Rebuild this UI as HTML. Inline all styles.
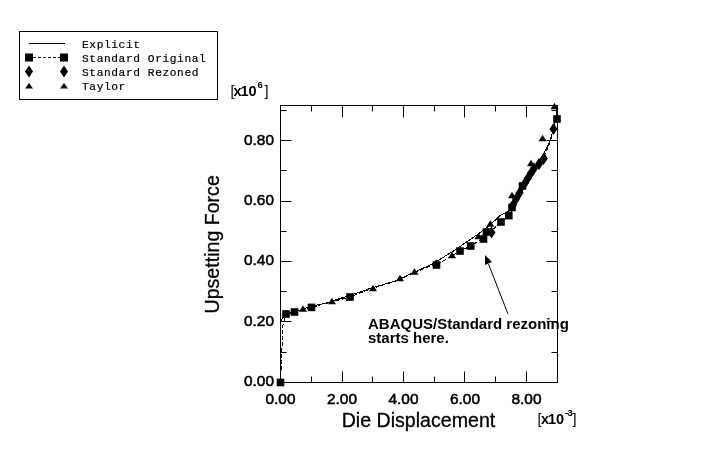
<!DOCTYPE html>
<html><head><meta charset="utf-8"><style>
html,body{margin:0;padding:0;background:#fff;}
body{width:701px;height:471px;overflow:hidden;position:relative;}
svg{position:absolute;left:0;top:0;will-change:transform;}
.s{font-family:"Liberation Sans",sans-serif;}
.m{font-family:"Liberation Mono",monospace;}
</style></head><body>
<svg width="701" height="471" viewBox="0 0 701 471">
<rect x="0" y="0" width="701" height="471" fill="#fff"/>
<!-- legend -->
<rect x="19.5" y="31.5" width="198" height="68" fill="none" stroke="#000" stroke-width="1"/>
<path d="M29 43.5H65" stroke="#000" stroke-width="1"/>
<path d="M33 57.5H60" stroke="#000" stroke-width="1" stroke-dasharray="3 2"/>
<g fill="#000"><rect x="25.0" y="53.5" width="8" height="8"/><rect x="60.0" y="53.5" width="8" height="8"/><path d="M29.0 65.6L33.0 71.6L29.0 77.6L25.0 71.6Z"/><path d="M64.0 65.6L68.0 71.6L64.0 77.6L60.0 71.6Z"/><path d="M29.0 82.9L33.0 88.5L25.0 88.5Z"/><path d="M64.0 82.9L68.0 88.5L60.0 88.5Z"/></g>
<g class="m" font-size="11.2" letter-spacing="0.6" fill="#000" stroke="#000" stroke-width="0.2">
<text x="82" y="48">Explicit</text>
<text x="82" y="62">Standard Original</text>
<text x="82" y="76">Standard Rezoned</text>
<text x="82" y="90">Taylor</text>
</g>
<!-- frame -->
<rect x="280.5" y="105.5" width="277" height="277" fill="none" stroke="#000" stroke-width="1"/>
<path d="M311.5 382.5V376.5 M311.5 105.5V111.5 M342.5 382.5V371.5 M342.5 105.5V117.5 M372.5 382.5V376.5 M372.5 105.5V111.5 M403.5 382.5V371.5 M403.5 105.5V117.5 M434.5 382.5V376.5 M434.5 105.5V111.5 M464.5 382.5V371.5 M464.5 105.5V117.5 M495.5 382.5V376.5 M495.5 105.5V111.5 M526.5 382.5V371.5 M526.5 105.5V117.5 M280.5 352.5H286.5 M557.5 352.5H551.5 M280.5 321.5H291.5 M557.5 321.5H546.5 M280.5 291.5H286.5 M557.5 291.5H551.5 M280.5 261.5H291.5 M557.5 261.5H546.5 M280.5 231.5H286.5 M557.5 231.5H551.5 M280.5 201.5H291.5 M557.5 201.5H546.5 M280.5 170.5H286.5 M557.5 170.5H551.5 M280.5 140.5H291.5 M557.5 140.5H546.5 M280.5 110.5H286.5 M557.5 110.5H551.5" stroke="#000" stroke-width="1" fill="none"/>
<!-- curves -->
<polyline points="280.5,382 280.5,330 281,321 284,316 292,312.5 303,309 315,305.5 328,302.6 340,298.5 354,294 370,288.5 396,280.7 411,273.5 432,264.3 455,250 478.6,233.7 490,225 500,215.7 508.5,211 513,205 523,190 527.5,180 532.5,170 539,164 544.5,152 549,143 553,131 556,119 556,108" fill="none" stroke="#000" stroke-width="1" shape-rendering="crispEdges"/>
<polyline points="280.5,382 283,325 286,314 294.5,312 311.5,307.4 350,297 370,289 396,281 411,274 428,267 436.5,265 460,251 470.7,246 483.4,238 501,222 509,216 516,202 522.5,188 532,172 540,162 546,152 550.5,141 553.5,129 557,119" fill="none" stroke="#000" stroke-width="1" stroke-dasharray="4 2" shape-rendering="crispEdges"/>
<g fill="#000">
<rect x="276.7" y="378.7" width="7.6" height="7.6"/><rect x="282.2" y="310.2" width="7.6" height="7.6"/><rect x="290.7" y="308.2" width="7.6" height="7.6"/><rect x="307.7" y="303.6" width="7.6" height="7.6"/><rect x="346.2" y="293.2" width="7.6" height="7.6"/><rect x="432.7" y="261.2" width="7.6" height="7.6"/><rect x="456.2" y="247.2" width="7.6" height="7.6"/><rect x="466.9" y="242.2" width="7.6" height="7.6"/><rect x="479.7" y="235.2" width="7.6" height="7.6"/><rect x="482.7" y="228.2" width="7.6" height="7.6"/><rect x="497.2" y="218.2" width="7.6" height="7.6"/><rect x="505.0" y="211.8" width="7.6" height="7.6"/><rect x="508.2" y="203.7" width="7.6" height="7.6"/><rect x="518.7" y="182.2" width="7.6" height="7.6"/><rect x="553.2" y="115.2" width="7.6" height="7.6"/>
<path d="M303.0 305.2L307.0 311.8L299.0 311.8Z"/><path d="M332.0 297.7L336.0 304.3L328.0 304.3Z"/><path d="M373.0 284.7L377.0 291.3L369.0 291.3Z"/><path d="M400.0 274.7L404.0 281.3L396.0 281.3Z"/><path d="M414.5 268.2L418.5 274.8L410.5 274.8Z"/><path d="M436.0 259.2L440.0 265.8L432.0 265.8Z"/><path d="M452.0 251.7L456.0 258.3L448.0 258.3Z"/><path d="M478.5 232.7L482.5 239.3L474.5 239.3Z"/><path d="M490.3 220.2L494.3 226.8L486.3 226.8Z"/><path d="M512.0 191.7L516.0 198.3L508.0 198.3Z"/><path d="M531.0 159.7L535.0 166.3L527.0 166.3Z"/><path d="M542.5 134.7L546.5 141.3L538.5 141.3Z"/><path d="M544.0 152.2L548.0 158.8L540.0 158.8Z"/><path d="M554.5 102.7L558.5 109.3L550.5 109.3Z"/>
<path d="M491.5 226.5L495.5 232.5L491.5 238.5L487.5 232.5Z"/><path d="M513.0 199.0L517.0 205.0L513.0 211.0L509.0 205.0Z"/><path d="M516.0 193.0L520.0 199.0L516.0 205.0L512.0 199.0Z"/><path d="M519.5 187.0L523.5 193.0L519.5 199.0L515.5 193.0Z"/><path d="M525.0 177.0L529.0 183.0L525.0 189.0L521.0 183.0Z"/><path d="M528.0 172.0L532.0 178.0L528.0 184.0L524.0 178.0Z"/><path d="M531.0 167.0L535.0 173.0L531.0 179.0L527.0 173.0Z"/><path d="M534.0 162.5L538.0 168.5L534.0 174.5L530.0 168.5Z"/><path d="M539.0 158.0L543.0 164.0L539.0 170.0L535.0 164.0Z"/><path d="M543.5 153.0L547.5 159.0L543.5 165.0L539.5 159.0Z"/><path d="M553.5 123.0L557.5 129.0L553.5 135.0L549.5 129.0Z"/>
</g>
<!-- arrow -->
<path d="M488.5 264L508 314" stroke="#000" stroke-width="1"/>
<path d="M485 255L492 262L485 265Z" fill="#000"/>
<!-- labels -->
<g class="s" font-size="15.4" fill="#000" stroke="#000" stroke-width="0.55" text-anchor="end">
<text x="274" y="144.5">0.80</text>
<text x="274" y="205">0.60</text>
<text x="274" y="265">0.40</text>
<text x="274" y="325.5">0.20</text>
<text x="274" y="385.5">0.00</text>
</g>
<g class="s" font-size="15.4" fill="#000" stroke="#000" stroke-width="0.55" text-anchor="middle">
<text x="280.5" y="404">0.00</text>
<text x="342" y="404">2.00</text>
<text x="403.5" y="404">4.00</text>
<text x="465" y="404">6.00</text>
<text x="526.5" y="404">8.00</text>
</g>
<text class="s" x="341.7" y="427" font-size="19.6" fill="#000" stroke="#000" stroke-width="0.3">Die Displacement</text>
<text class="s" transform="translate(219,313.5) rotate(-90)" x="0" y="0" font-size="19.6" fill="#000" stroke="#000" stroke-width="0.3">Upsetting Force</text>
<g class="s" font-size="14.5" font-weight="bold" fill="#000">
<text x="230.5" y="95.5" font-weight="normal">[</text><text x="233.5" y="95.7">x</text><text x="240.5" y="95.7">1</text><text x="248.5" y="95.7">0</text><text x="264.5" y="95.5" font-weight="normal">]</text>
<text x="537.5" y="424" font-weight="normal">[</text><text x="541" y="423.9">x</text><text x="548" y="423.9">1</text><text x="556" y="423.9">0</text><text x="572.5" y="424" font-weight="normal">]</text>
</g>
<g class="s" font-size="9.5" font-weight="bold" fill="#000">
<text x="257.5" y="87.6">6</text>
<text x="567.5" y="415.6">3</text>
</g>
<path d="M565 413.5H568.5" stroke="#000" stroke-width="1"/>
<g class="s" font-size="15" font-weight="bold" fill="#000">
<text x="368" y="329">ABAQUS/Standard rezoning</text>
<text x="368" y="342.5">starts here.</text>
</g>
</svg>
</body></html>
